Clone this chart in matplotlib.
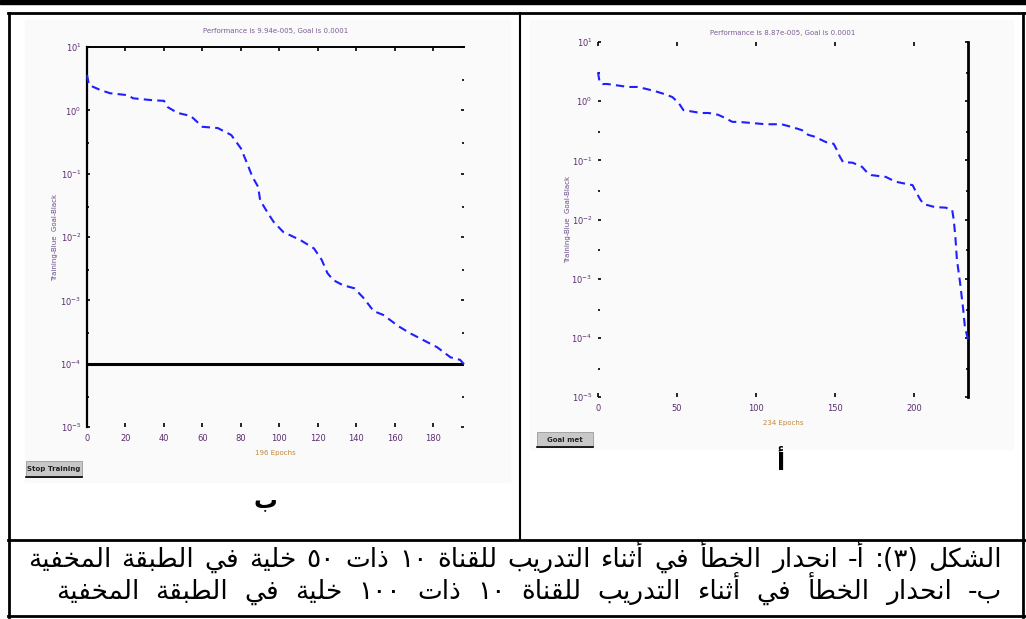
import re
import math
import matplotlib
matplotlib.use("Agg")
import matplotlib.pyplot as plt
from matplotlib.lines import Line2D
from matplotlib.patches import Rectangle
from matplotlib.ticker import LogLocator, FixedLocator, FuncFormatter

W, H = 1026, 619

# panel b: 100 hidden neurons
b_epochs = [0, 1, 7, 12, 21, 24, 34, 40, 42, 47, 54, 60, 68, 75, 80, 83, 86, 89, 90, 94,
            97, 102, 111, 118, 122, 125, 128, 133, 139, 144, 149, 154, 162, 168, 175, 182,
            189, 194, 196]
b_logerr = [0.56, 0.40, 0.32, 0.27, 0.24, 0.19, 0.16, 0.15, 0.05, -0.04, -0.09, -0.26, -0.28,
            -0.39, -0.60, -0.82, -1.05, -1.21, -1.42, -1.62, -1.76, -1.92, -2.05, -2.18, -2.36,
            -2.57, -2.68, -2.76, -2.81, -2.97, -3.17, -3.23, -3.41, -3.52, -3.63, -3.74, -3.90,
            -3.94, -4.01]
b_title = "Performance is 9.94e-005, Goal is 0.0001"
b_xticks = [0, 20, 40, 60, 80, 100, 120, 140, 160, 180]

# panel a: 50 hidden neurons
a_epochs = [0, 1, 3, 6, 19, 25, 30, 36, 42, 47, 51, 54, 65, 70, 76, 80, 85, 89, 106, 116,
            123, 129, 133, 137, 144, 149, 151, 153, 155, 161, 167, 170, 173, 182, 188, 199,
            201, 204, 206, 213, 220, 224, 225, 226, 227, 229, 231, 232, 234]
a_logerr = [0.49, 0.32, 0.29, 0.29, 0.24, 0.24, 0.21, 0.17, 0.12, 0.07, -0.03, -0.15, -0.20,
            -0.20, -0.23, -0.28, -0.35, -0.35, -0.39, -0.39, -0.44, -0.49, -0.57, -0.60, -0.69,
            -0.72, -0.82, -0.94, -1.03, -1.04, -1.11, -1.20, -1.25, -1.28, -1.36, -1.42, -1.53,
            -1.67, -1.74, -1.79, -1.80, -1.84, -2.01, -2.29, -2.68, -3.07, -3.53, -3.81, -4.03]
a_title = "Performance is 8.87e-005, Goal is 0.0001"
a_xticks = [0, 50, 100, 150, 200]

goal = 1e-4
ylim = (1e-5, 1e1)

caption1 = "الشكل (٣): أ- انحدار الخطأ في أثناء التدريب للقناة ١٠ ذات ٥٠ خلية في الطبقة المخفية"
caption2 = "ب- انحدار الخطأ في أثناء التدريب للقناة ١٠ ذات ١٠٠ خلية في الطبقة المخفية"

# contextual forms: isolated, final, initial, medial
FORMS = {
    'ء': ('\ufe80', None, None, None),
    'أ': ('\ufe83', '\ufe84', None, None),
    'ا': ('\ufe8d', '\ufe8e', None, None),
    'ب': ('\ufe8f', '\ufe90', '\ufe91', '\ufe92'),
    'ة': ('\ufe93', '\ufe94', None, None),
    'ت': ('\ufe95', '\ufe96', '\ufe97', '\ufe98'),
    'ث': ('\ufe99', '\ufe9a', '\ufe9b', '\ufe9c'),
    'ح': ('\ufea1', '\ufea2', '\ufea3', '\ufea4'),
    'خ': ('\ufea5', '\ufea6', '\ufea7', '\ufea8'),
    'د': ('\ufea9', '\ufeaa', None, None),
    'ذ': ('\ufeab', '\ufeac', None, None),
    'ر': ('\ufead', '\ufeae', None, None),
    'ش': ('\ufeb5', '\ufeb6', '\ufeb7', '\ufeb8'),
    'ط': ('\ufec1', '\ufec2', '\ufec3', '\ufec4'),
    'ف': ('\ufed1', '\ufed2', '\ufed3', '\ufed4'),
    'ق': ('\ufed5', '\ufed6', '\ufed7', '\ufed8'),
    'ك': ('\ufed9', '\ufeda', '\ufedb', '\ufedc'),
    'ل': ('\ufedd', '\ufede', '\ufedf', '\ufee0'),
    'م': ('\ufee1', '\ufee2', '\ufee3', '\ufee4'),
    'ن': ('\ufee5', '\ufee6', '\ufee7', '\ufee8'),
    'ي': ('\ufef1', '\ufef2', '\ufef3', '\ufef4'),
}


def shape_run(run):
    out = []
    for i, ch in enumerate(run):
        f = FORMS[ch]
        prev = run[i - 1] if i > 0 else ''
        nxt = run[i + 1] if i < len(run) - 1 else ''
        jp = prev in FORMS and FORMS[prev][2] is not None
        jn = f[2] is not None and nxt in FORMS and nxt != 'ء'
        if jp and jn:
            out.append(f[3])
        elif jp and f[1]:
            out.append(f[1])
        elif jn:
            out.append(f[2])
        else:
            out.append(f[0])
    return ''.join(out)


def visual(text):
    # crude right-to-left layout: shape, reverse, put numbers back, mirror brackets
    parts = re.split('([\u0621-\u064a]+)', text)
    s = ''.join(shape_run(p) if p and p[0] in FORMS else p for p in parts)[::-1]
    s = re.sub('[\u0660-\u06690-9]+', lambda m: m.group()[::-1], s)
    return s.translate(str.maketrans('()', ')('))


def fx(x):
    return x / W


def fy(y):
    return 1 - y / H


def hline(fig, y, x0, x1, lw):
    fig.add_artist(Line2D([fx(x0), fx(x1)], [fy(y), fy(y)], color='black', lw=lw,
                          transform=fig.transFigure))


def vline(fig, x, y0, y1, lw):
    fig.add_artist(Line2D([fx(x), fx(x)], [fy(y0), fy(y1)], color='black', lw=lw,
                          transform=fig.transFigure))


def pow10(v, pos):
    return r'$10^{%d}$' % int(round(math.log10(v)))


def panel(fig, box, epochs, logerr, title, xticks, show_goal, tpad, ypad):
    x0, y0, x1, y1 = box
    ax = fig.add_axes([fx(x0), fy(y1), fx(x1) - fx(x0), fy(y0) - fy(y1)])
    ax.set_facecolor('none')
    ax.set_yscale('log')
    ax.set_xlim(0, epochs[-1])
    ax.set_ylim(*ylim)
    ax.plot(epochs, [10 ** v for v in logerr], color='#1f1fff', lw=1.5,
            ls=(0, (4, 2.5)), clip_on=False, zorder=3)
    if show_goal:
        ax.axhline(goal, color='black', lw=2.2, zorder=2)
    ax.xaxis.set_major_locator(FixedLocator(xticks))
    ax.yaxis.set_major_locator(LogLocator(base=10, numticks=10))
    ax.yaxis.set_minor_locator(LogLocator(base=10, subs=(3.0,), numticks=10))
    ax.yaxis.set_major_formatter(FuncFormatter(pow10))
    ax.yaxis.set_minor_formatter(FuncFormatter(lambda v, p: ''))
    ax.tick_params(axis='both', which='both', direction='in', labelsize=6,
                   labelcolor='#5b2c6f', color='black', width=1.2)
    ax.tick_params(axis='y', which='major', length=2, pad=4, right=True)
    ax.tick_params(axis='y', which='minor', length=1.5, right=True)
    ax.tick_params(axis='x', which='major', length=3, pad=5, top=True)
    ax.set_title(title, fontsize=5, color='#7b5c94', pad=tpad)
    ax.set_xlabel('%d Epochs' % epochs[-1], fontsize=5, color='#c0883a', labelpad=5)
    ax.set_ylabel('Training-Blue  Goal-Black', fontsize=5, color='#6a4a8a', labelpad=ypad)
    return ax


def caption_line(fig, renderer, text, y, left, right, size):
    # spread the words between left and right, first word on the right
    words = text.split()
    items = [fig.text(0, fy(y), visual(w), fontsize=size, ha='left', va='center',
                      family='DejaVu Sans') for w in words]
    widths = [t.get_window_extent(renderer).width for t in items]
    gap = (right - left - sum(widths)) / (len(words) - 1)
    x = right
    for t, w in zip(items, widths):
        x -= w
        t.set_x(fx(x))
        x -= gap


fig = plt.figure(figsize=(W / 100, H / 100), dpi=100)
fig.patch.set_facecolor('white')

# light screenshot backgrounds
fig.add_artist(Rectangle((fx(25), fy(482)), fx(510) - fx(25), fy(20) - fy(482),
                         transform=fig.transFigure, color='#fafafa', zorder=0))
fig.add_artist(Rectangle((fx(530), fy(449)), fx(1013) - fx(530), fy(20) - fy(449),
                         transform=fig.transFigure, color='#fafafa', zorder=0))

axb = panel(fig, (87, 47, 464, 427), b_epochs, b_logerr, b_title, b_xticks, True, 10, 2)
for s in ('right', 'bottom'):
    axb.spines[s].set_visible(False)
axb.spines['left'].set_linewidth(1.6)
axb.spines['top'].set_linewidth(1.4)

axa = panel(fig, (598, 42, 968, 397), a_epochs, a_logerr, a_title, a_xticks, False, 5, 0)
for s in ('left', 'top', 'bottom'):
    axa.spines[s].set_visible(False)
axa.spines['right'].set_linewidth(2.0)

# buttons
for (bx, by, bw, bh, label) in [(26, 461, 56, 16, 'Stop Training'), (537, 432, 56, 15, 'Goal met')]:
    fig.add_artist(Rectangle((fx(bx), fy(by + bh)), fx(bw), bh / H, transform=fig.transFigure,
                             facecolor='#c8c8c8', edgecolor='#9a9a9a', lw=0.6, zorder=2))
    hline(fig, by + bh, bx, bx + bw, 1.2)
    fig.text(fx(bx + bw / 2), fy(by + bh / 2), label, fontsize=5, fontweight='bold',
             ha='center', va='center', color='#222222')

# sub-figure letters
fig.text(fx(265), fy(500), visual('ب'), fontsize=17, fontweight='bold', ha='center',
         va='center', family='DejaVu Sans')
fig.text(fx(780), fy(463), visual('أ'), fontsize=17, fontweight='bold', ha='center',
         va='center', family='DejaVu Sans')

# table borders
fig.add_artist(Rectangle((0, fy(4)), 1, 4 / H, transform=fig.transFigure, color='black'))
hline(fig, 13, 8, 1025, 2)
vline(fig, 9, 13, 617, 2)
vline(fig, 1023, 13, 617, 2)
vline(fig, 520, 13, 540, 1.5)
hline(fig, 540, 8, 1025, 2)
hline(fig, 616, 8, 1025, 2)

# caption
renderer = fig.canvas.get_renderer()
caption_line(fig, renderer, caption1, 560, 28, 1002, 19)
caption_line(fig, renderer, caption2, 592, 56, 1002, 19)

fig.savefig('out.png', dpi=100)
